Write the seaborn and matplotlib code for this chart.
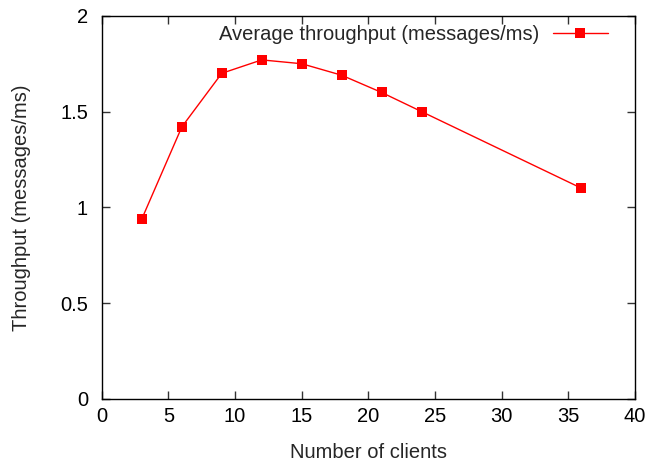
import pandas as pd
import matplotlib
matplotlib.use('Agg')
import matplotlib.pyplot as plt
import seaborn as sns

clients = [3, 6, 9, 12, 15, 18, 21, 24, 36]
throughput = [0.94, 1.42, 1.70, 1.77, 1.75, 1.69, 1.60, 1.50, 1.10]

df = pd.DataFrame({'clients': clients, 'throughput': throughput})

sns.set_style('ticks')
plt.rcParams['font.family'] = ['Liberation Sans', 'DejaVu Sans']

fig = plt.figure(figsize=(6.49, 4.66), dpi=100)
ax = fig.add_axes([0.157, 0.144, 0.821, 0.822])

sns.lineplot(data=df, x='clients', y='throughput', ax=ax, color='red',
             marker='s', markersize=6.5, markeredgewidth=0, linewidth=1,
             label='Average throughput (messages/ms)')

ax.set_xlim(0, 40)
ax.set_ylim(0, 2)
ax.set_xticks([0, 5, 10, 15, 20, 25, 30, 35, 40])
ax.set_yticks([0, 0.5, 1, 1.5, 2])
ax.set_yticklabels(['0', '0.5', '1', '1.5', '2'])
ax.tick_params(direction='in', top=True, right=True, length=6, width=1,
               labelsize=14.5, colors='#333333', labelcolor='black')
ax.tick_params(axis='y', pad=10)
ax.tick_params(axis='x', pad=6)
for s in ax.spines.values():
    s.set_linewidth(1)
    s.set_color('black')
    s.set_visible(True)

ax.set_xlabel('Number of clients', fontsize=14.5, labelpad=12)
ax.set_ylabel('Throughput (messages/ms)', fontsize=14.5, labelpad=21)

ax.legend(loc='upper right', bbox_to_anchor=(0.983, 1.023), frameon=False,
          markerfirst=False, fontsize=14.5,
          handlelength=2.7, handletextpad=0.7, borderaxespad=0.5)

fig.savefig('out.png', dpi=100)
